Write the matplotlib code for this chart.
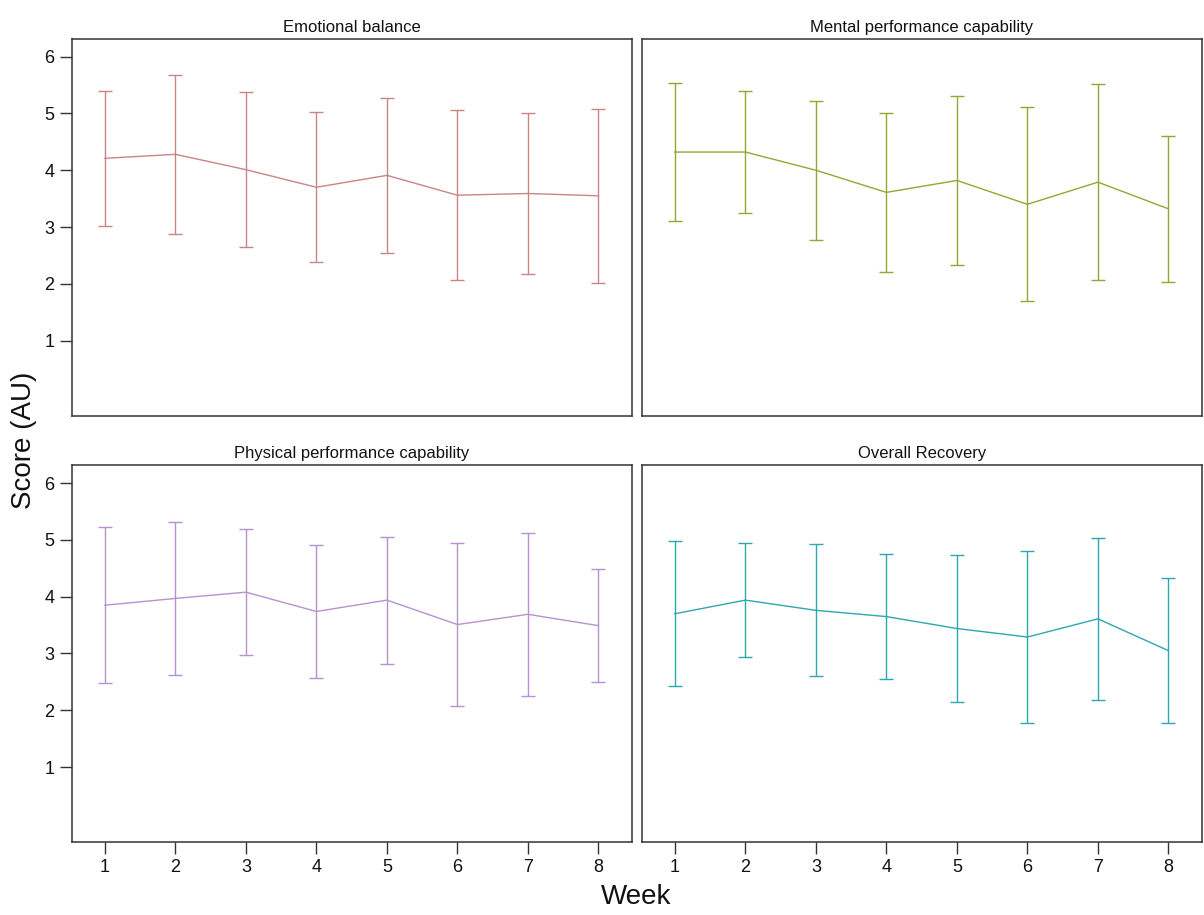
import matplotlib
matplotlib.use("Agg")
import matplotlib.pyplot as plt
import numpy as np

plt.rcParams['font.family'] = ['Liberation Sans', 'DejaVu Sans']

weeks = [1, 2, 3, 4, 5, 6, 7, 8]

titles = ["Emotional balance", "Mental performance capability",
          "Physical performance capability", "Overall Recovery"]

# weekly means and standard deviations per scale
emotional_mean = [4.21, 4.28, 4.01, 3.70, 3.91, 3.56, 3.59, 3.55]
emotional_sd = [1.19, 1.40, 1.37, 1.32, 1.37, 1.50, 1.42, 1.53]

mental_mean = [4.32, 4.32, 4.00, 3.61, 3.82, 3.40, 3.79, 3.32]
mental_sd = [1.22, 1.08, 1.22, 1.40, 1.49, 1.71, 1.73, 1.29]

physical_mean = [3.85, 3.97, 4.08, 3.74, 3.94, 3.51, 3.69, 3.49]
physical_sd = [1.37, 1.35, 1.11, 1.17, 1.12, 1.44, 1.43, 1.00]

overall_mean = [3.70, 3.94, 3.76, 3.65, 3.44, 3.29, 3.61, 3.05]
overall_sd = [1.28, 1.00, 1.16, 1.10, 1.30, 1.52, 1.43, 1.28]

means = [emotional_mean, mental_mean, physical_mean, overall_mean]
sds = [emotional_sd, mental_sd, physical_sd, overall_sd]
colors = ['#c98585', '#97a532', '#b393d0', '#2ea7ae']

fig = plt.figure(figsize=(12.04, 9.15), dpi=100)

# panel boxes in figure fractions: left, bottom, width, height
col_left = [0.0596, 0.533]
row_bottom = [0.5459, 0.0798]
w, h = 0.465, 0.412

for i in range(4):
    r, c = divmod(i, 2)
    ax = fig.add_axes([col_left[c], row_bottom[r], w, h])
    ax.errorbar(weeks, means[i], yerr=sds[i], color=colors[i], lw=1.0,
                elinewidth=1.0, capsize=5, capthick=1.0)
    ax.set_xlim(0.53, 8.47)
    ax.set_ylim(-0.32, 6.32)
    ax.set_xticks(weeks)
    ax.set_yticks([1, 2, 3, 4, 5, 6])
    ax.set_title(titles[i], fontsize=12, pad=5, color='#111111')
    for s in ax.spines.values():
        s.set_color('#333333')
        s.set_linewidth(1.1)
    ax.tick_params(direction='out', length=8.5, width=1.0, color='#333333',
                   labelsize=13, labelcolor='#111111', pad=4)
    if c == 1:
        ax.tick_params(axis='y', left=False, labelleft=False)
    if r == 0:
        ax.tick_params(axis='x', bottom=False, labelbottom=False)

fig.text(0.528, 0.0197, "Week", fontsize=20, ha='center', va='center', color='#111111')
fig.text(0.020, 0.519, "Score (AU)", fontsize=20, rotation=90, ha='center', va='center',
         color='#111111')

fig.savefig("out.png", dpi=100)
